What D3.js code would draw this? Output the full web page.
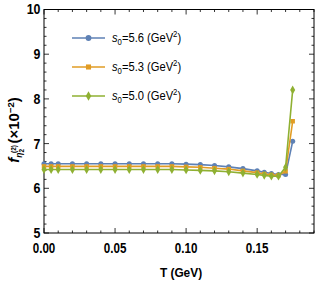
<!DOCTYPE html>
<html><head><meta charset="utf-8">
<script src="https://cdn.jsdelivr.net/npm/d3@7"></script>
<style>body{margin:0;background:#fff}svg{display:block}</style>
</head><body>
<svg id="c" width="316" height="284"></svg>
<script>
const T = [0,0.005,0.01,0.02,0.03,0.04,0.05,0.06,0.07,0.08,0.09,0.10,0.11,0.12,0.13,0.14,0.15,0.155,0.16,0.165,0.17,0.175];
const s56 = [6.55,6.55,6.55,6.55,6.55,6.55,6.55,6.55,6.55,6.55,6.55,6.54,6.53,6.51,6.48,6.44,6.39,6.36,6.33,6.31,6.31,7.05];
const s53 = [6.49,6.49,6.49,6.49,6.49,6.49,6.49,6.49,6.49,6.49,6.49,6.48,6.47,6.45,6.43,6.39,6.35,6.32,6.30,6.29,6.38,7.50];
const s50 = [6.42,6.42,6.42,6.42,6.42,6.42,6.42,6.42,6.42,6.42,6.42,6.41,6.40,6.39,6.37,6.34,6.31,6.29,6.27,6.27,6.47,8.20];
const seriesNames = ["5.6","5.3","5.0"];
const xTicks = [0.00,0.05,0.10,0.15];
const yTicks = [5,6,7,8,9,10];

const colors = ["#5e81b5","#e19c24","#8fb032"];
const symbols = [d3.symbolCircle, d3.symbolSquare, d3.symbolDiamond];
const svg = d3.select("#c");
const L=44, R=314, Tp=9.5, B=233;
const x = d3.scaleLinear().domain([0,0.19]).range([L,R]);
const y = d3.scaleLinear().domain([5,10]).range([B,Tp]);
const g = svg.append("g");

g.append("rect").attr("x",L).attr("y",Tp).attr("width",R-L).attr("height",B-Tp)
 .attr("fill","none").attr("stroke","#000").attr("stroke-width",1);

const fnt = "'Liberation Sans', Arial, sans-serif";
const xMinor = d3.range(0,0.1901,0.01);
const yMinor = d3.range(5,10.001,0.2);
xMinor.forEach(v=>{
  const major = xTicks.some(t=>Math.abs(t-v)<1e-6);
  const len = major?5:2.5;
  g.append("line").attr("x1",x(v)).attr("x2",x(v)).attr("y1",B).attr("y2",B-len).attr("stroke","#000").attr("stroke-width",0.8);
  g.append("line").attr("x1",x(v)).attr("x2",x(v)).attr("y1",Tp).attr("y2",Tp+len).attr("stroke","#000").attr("stroke-width",0.8);
});
yMinor.forEach(v=>{
  const major = yTicks.some(t=>Math.abs(t-v)<1e-6);
  const len = major?5:2.5;
  g.append("line").attr("x1",L).attr("x2",L+len).attr("y1",y(v)).attr("y2",y(v)).attr("stroke","#000").attr("stroke-width",0.8);
  g.append("line").attr("x1",R).attr("x2",R-len).attr("y1",y(v)).attr("y2",y(v)).attr("stroke","#000").attr("stroke-width",0.8);
});
xTicks.forEach(v=>{
  const cx = x(v);
  g.append("text").attr("x",cx).attr("y",B+20).attr("text-anchor","middle")
   .attr("font-family",fnt).attr("font-weight","bold").attr("font-size",14.5)
   .attr("transform",`translate(${cx},0) scale(0.8,1) translate(${-cx},0)`)
   .text(d3.format(".2f")(v));
});
yTicks.forEach(v=>{
  const ex = L-3.5;
  g.append("text").attr("x",ex).attr("y",y(v)+5).attr("text-anchor","end")
   .attr("font-family",fnt).attr("font-weight","bold").attr("font-size",15.5)
   .attr("transform",`translate(${ex},0) scale(0.8,1) translate(${-ex},0)`)
   .text(v);
});

const data = [s56,s53,s50];
data.forEach((vals,i)=>{
  const pts = T.map((t,j)=>[t,vals[j]]);
  g.append("path").datum(pts).attr("fill","none").attr("stroke",colors[i]).attr("stroke-width",1.6)
   .attr("d",d3.line().x(d=>x(d[0])).y(d=>y(d[1])));
  g.selectAll(null).data(pts).enter().append("path")
   .attr("transform",d=>`translate(${x(d[0])},${y(d[1])})`)
   .attr("d",d3.symbol().type(symbols[i]).size(i==2?22:20)).attr("fill",colors[i]);
});

const ly=[38,67,96];
seriesNames.forEach((n,i)=>{
  g.append("line").attr("x1",72).attr("x2",105).attr("y1",ly[i]).attr("y2",ly[i]).attr("stroke",colors[i]).attr("stroke-width",1.6);
  g.append("path").attr("transform",`translate(88.5,${ly[i]})`).attr("d",d3.symbol().type(symbols[i]).size(26)).attr("fill",colors[i]);
  const t = g.append("text").attr("x",112).attr("y",ly[i]+4.5).attr("font-family",fnt).attr("font-size",13)
    .attr("transform",`translate(112,0) scale(0.86,1) translate(-112,0)`);
  t.append("tspan").attr("font-style","italic").text("s");
  t.append("tspan").attr("font-size",9).attr("dy",2.5).text("0");
  t.append("tspan").attr("dy",-2.5).text("="+n+" (GeV");
  t.append("tspan").attr("font-size",9).attr("dy",-5.5).text("2");
  t.append("tspan").attr("dy",5.5).text(")");
});

g.append("text").attr("x",181).attr("y",277).attr("text-anchor","middle").attr("font-family",fnt)
 .attr("font-weight","bold").attr("font-size",13.5)
 .attr("transform","translate(181,0) scale(0.88,1) translate(-181,0)").text("T (GeV)");
const yl = g.append("text").attr("transform","translate(19,130) rotate(-90)").attr("text-anchor","middle")
 .attr("font-family",fnt).attr("font-weight","bold").attr("font-size",15);
yl.append("tspan").attr("font-style","italic").text("f");
yl.append("tspan").attr("font-size",8.5).attr("font-style","italic").attr("dy",3).text("η");
yl.append("tspan").attr("font-size",6.5).attr("dy",2).text("2");
yl.append("tspan").attr("font-size",6.5).attr("dx",-4).attr("dy",-8).text("(2)");
yl.append("tspan").attr("dx",1.5).attr("dy",3).text("(×10");
yl.append("tspan").attr("font-size",9.5).attr("dy",-5.5).text("−2");
yl.append("tspan").attr("dy",5.5).text(")");
</script>
</body></html>
